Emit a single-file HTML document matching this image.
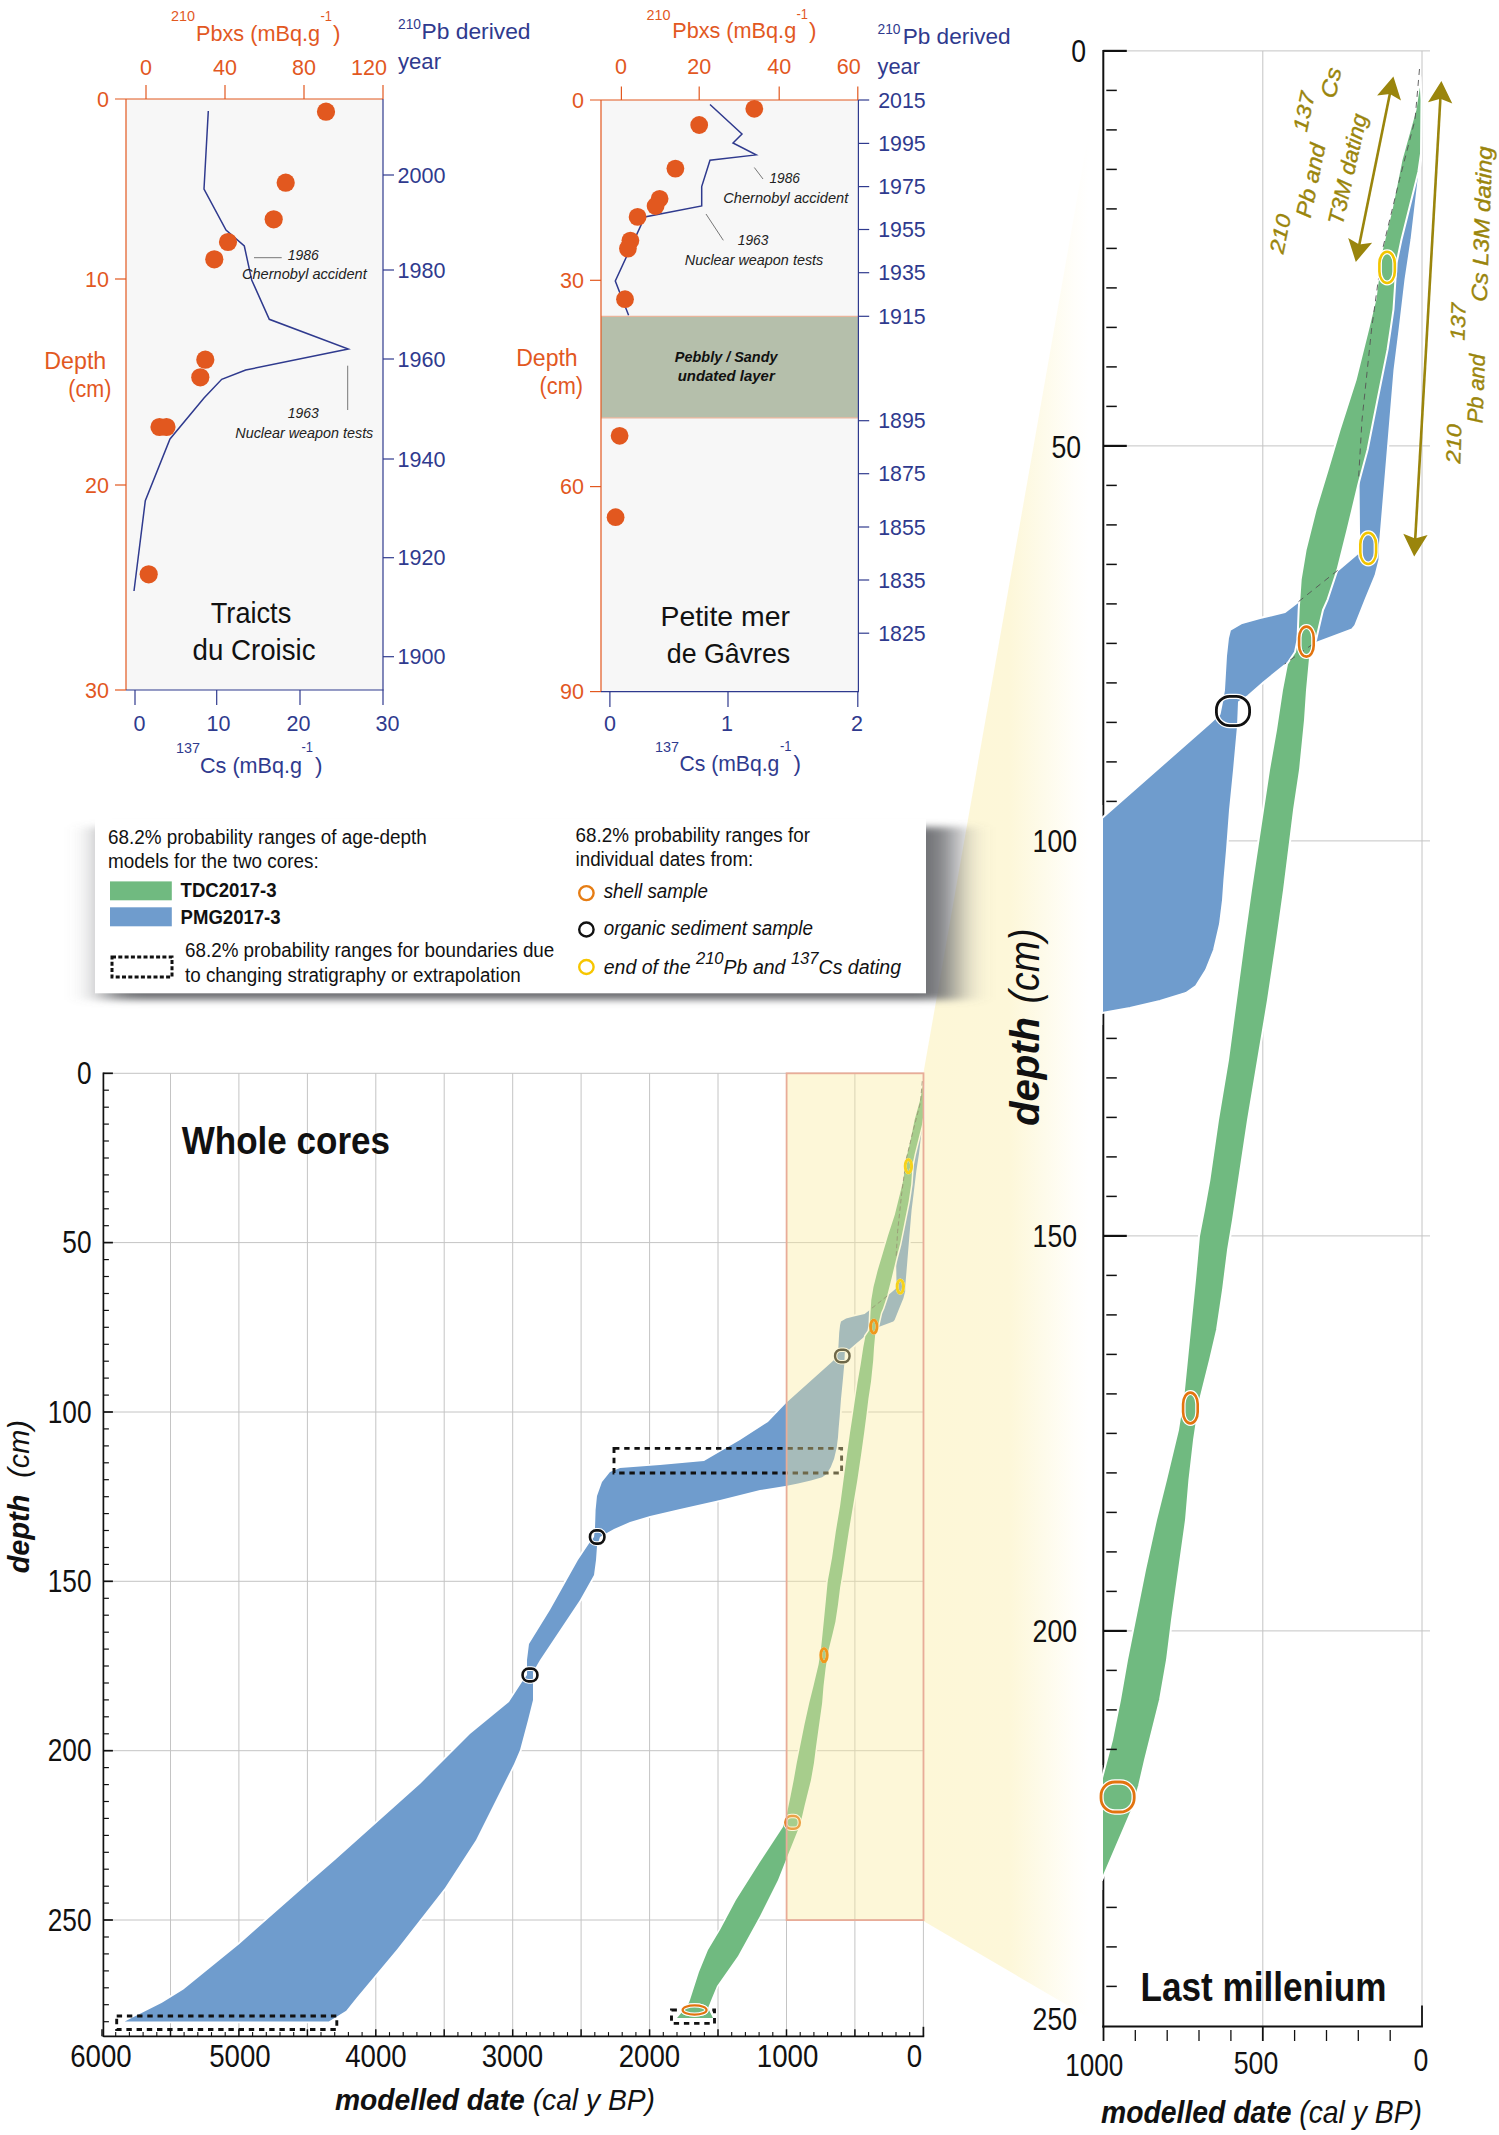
<!DOCTYPE html>
<html><head><meta charset="utf-8"><title>Age-depth models</title>
<style>html,body{margin:0;padding:0;background:#fff;}svg{display:block;}text{font-family:"Liberation Sans",sans-serif;}</style>
</head><body>
<svg width="1499" height="2135" viewBox="0 0 1499 2135" font-family="Liberation Sans, sans-serif">
<defs>
<linearGradient id="wedge" gradientUnits="userSpaceOnUse" x1="923" y1="0" x2="1103" y2="0">
<stop offset="0" stop-color="#FDF7D7"/>
<stop offset="0.48" stop-color="#FDF7D9"/>
<stop offset="0.68" stop-color="#FEFBEB"/>
<stop offset="0.84" stop-color="#FFFEFA"/>
<stop offset="0.92" stop-color="#FFFFFF"/>
<stop offset="1" stop-color="#FFFFFF"/>
</linearGradient>
<linearGradient id="shR" x1="0" y1="0" x2="1" y2="0">
<stop offset="0" stop-color="#6f7174" stop-opacity="0.92"/>
<stop offset="0.25" stop-color="#77797c" stop-opacity="0.8"/>
<stop offset="0.55" stop-color="#8a8c8f" stop-opacity="0.5"/>
<stop offset="0.8" stop-color="#9a9c9f" stop-opacity="0.22"/>
<stop offset="1" stop-color="#aaa" stop-opacity="0"/>
</linearGradient>
<linearGradient id="shB" x1="0" y1="0" x2="0" y2="1">
<stop offset="0" stop-color="#707275" stop-opacity="0.85"/>
<stop offset="0.5" stop-color="#909295" stop-opacity="0.4"/>
<stop offset="1" stop-color="#aaa" stop-opacity="0"/>
</linearGradient>
<linearGradient id="shL" x1="1" y1="0" x2="0" y2="0">
<stop offset="0" stop-color="#999" stop-opacity="0.35"/>
<stop offset="1" stop-color="#aaa" stop-opacity="0"/>
</linearGradient>
<linearGradient id="shT" x1="0" y1="1" x2="0" y2="0">
<stop offset="0" stop-color="#999" stop-opacity="0.3"/>
<stop offset="1" stop-color="#aaa" stop-opacity="0"/>
</linearGradient>
<filter id="blur" x="-10%" y="-40%" width="120%" height="180%"><feGaussianBlur stdDeviation="17 3.8"/></filter>
<marker id="ah" viewBox="0 0 20 22" refX="17" refY="11" markerWidth="20" markerHeight="22" markerUnits="userSpaceOnUse" orient="auto-start-reverse">
<path d="M20,11 L0,0 L6,11 L0,22 Z" fill="#9A850C"/>
</marker>
</defs>
<rect x="0" y="0" width="1499" height="2135" fill="#fff"/>
<polygon points="923.4,1073.3 1103,51 1103,2026 923.4,1921" fill="url(#wedge)"/>
<rect x="105.0" y="827.0" width="850.0" height="172.8" fill="#6e7073" filter="url(#blur)"/>
<rect x="95.0" y="819.0" width="831.0" height="174.3" fill="#fff"/>
<text x="108.0" y="844.4" font-size="20.00" fill="#111" text-anchor="start" textLength="318.8" lengthAdjust="spacingAndGlyphs" >68.2% probability ranges of age-depth</text>
<text x="108.0" y="868.4" font-size="20.00" fill="#111" text-anchor="start" textLength="210.7" lengthAdjust="spacingAndGlyphs" >models for the two cores:</text>
<rect x="110" y="881.4" width="61.8" height="18.9" fill="#70BA80"/>
<rect x="110" y="907.3" width="61.8" height="19" fill="#6F9CCD"/>
<text x="180.6" y="896.9" font-size="20.00" fill="#111" text-anchor="start" font-weight="bold" textLength="96.0" lengthAdjust="spacingAndGlyphs" >TDC2017-3</text>
<text x="180.6" y="923.7" font-size="20.00" fill="#111" text-anchor="start" font-weight="bold" textLength="100.0" lengthAdjust="spacingAndGlyphs" >PMG2017-3</text>
<rect x="112" y="957" width="60" height="20" fill="none" stroke="#111" stroke-width="3" stroke-dasharray="4 2.3"/>
<text x="185.0" y="956.9" font-size="20.00" fill="#111" text-anchor="start" textLength="369.3" lengthAdjust="spacingAndGlyphs" >68.2% probability ranges for boundaries due</text>
<text x="185.0" y="981.6" font-size="20.00" fill="#111" text-anchor="start" textLength="335.7" lengthAdjust="spacingAndGlyphs" >to changing stratigraphy or extrapolation</text>
<text x="575.5" y="841.6" font-size="20.00" fill="#111" text-anchor="start" textLength="234.5" lengthAdjust="spacingAndGlyphs" >68.2% probability ranges for</text>
<text x="575.5" y="866.0" font-size="20.00" fill="#111" text-anchor="start" textLength="177.8" lengthAdjust="spacingAndGlyphs" >individual dates from:</text>
<ellipse cx="586.4" cy="893.1" rx="7.2" ry="7.0" fill="none" stroke="#E67D14" stroke-width="2.4"/>
<ellipse cx="586.4" cy="929.5" rx="7.2" ry="7.0" fill="none" stroke="#111" stroke-width="2.4"/>
<ellipse cx="586.4" cy="967.0" rx="7.2" ry="7.0" fill="none" stroke="#F7C600" stroke-width="2.4"/>
<text x="603.7" y="898.2" font-size="20.00" fill="#111" text-anchor="start" font-style="italic" textLength="104.3" lengthAdjust="spacingAndGlyphs" >shell sample</text>
<text x="603.7" y="934.9" font-size="20.00" fill="#111" text-anchor="start" font-style="italic" textLength="209.3" lengthAdjust="spacingAndGlyphs" >organic sediment sample</text>
<text x="603.7" y="973.6" font-size="20" font-style="italic" fill="#111" textLength="297.3" lengthAdjust="spacingAndGlyphs">end of the <tspan font-size="17" dy="-10">210</tspan><tspan dy="10">Pb and </tspan><tspan font-size="17" dy="-10">137</tspan><tspan dy="10">Cs dating</tspan></text>
<rect x="126" y="99" width="257" height="591" fill="#F7F7F7"/>
<line x1="115.0" y1="99.0" x2="383.0" y2="99.0" stroke="#E2581F" stroke-width="1.20" />
<line x1="126.0" y1="99.0" x2="126.0" y2="690.0" stroke="#E2581F" stroke-width="1.20" />
<line x1="146.0" y1="85.0" x2="146.0" y2="99.0" stroke="#E2581F" stroke-width="1.20" />
<line x1="225.0" y1="85.0" x2="225.0" y2="99.0" stroke="#E2581F" stroke-width="1.20" />
<line x1="304.0" y1="85.0" x2="304.0" y2="99.0" stroke="#E2581F" stroke-width="1.20" />
<line x1="383.0" y1="85.0" x2="383.0" y2="99.0" stroke="#E2581F" stroke-width="1.20" />
<line x1="115.0" y1="279.0" x2="126.0" y2="279.0" stroke="#E2581F" stroke-width="1.20" />
<line x1="115.0" y1="485.0" x2="126.0" y2="485.0" stroke="#E2581F" stroke-width="1.20" />
<line x1="115.0" y1="690.0" x2="126.0" y2="690.0" stroke="#E2581F" stroke-width="1.20" />
<text x="146.0" y="74.5" font-size="21.50" fill="#E2581F" text-anchor="middle" >0</text>
<text x="225.0" y="74.5" font-size="21.50" fill="#E2581F" text-anchor="middle" >40</text>
<text x="304.0" y="74.5" font-size="21.50" fill="#E2581F" text-anchor="middle" >80</text>
<text x="369.0" y="74.5" font-size="21.50" fill="#E2581F" text-anchor="middle" >120</text>
<text x="109.0" y="106.5" font-size="21.50" fill="#E2581F" text-anchor="end" >0</text>
<text x="109.0" y="286.5" font-size="21.50" fill="#E2581F" text-anchor="end" >10</text>
<text x="109.0" y="492.5" font-size="21.50" fill="#E2581F" text-anchor="end" >20</text>
<text x="109.0" y="697.5" font-size="21.50" fill="#E2581F" text-anchor="end" >30</text>
<line x1="383.0" y1="99.0" x2="383.0" y2="690.0" stroke="#2F3A8E" stroke-width="1.20" />
<line x1="126.0" y1="690.0" x2="383.6" y2="690.0" stroke="#2F3A8E" stroke-width="1.20" />
<line x1="135.0" y1="690.0" x2="135.0" y2="705.0" stroke="#2F3A8E" stroke-width="1.20" />
<line x1="216.7" y1="690.0" x2="216.7" y2="705.0" stroke="#2F3A8E" stroke-width="1.20" />
<line x1="300.0" y1="690.0" x2="300.0" y2="705.0" stroke="#2F3A8E" stroke-width="1.20" />
<line x1="383.0" y1="690.0" x2="383.0" y2="705.0" stroke="#2F3A8E" stroke-width="1.20" />
<line x1="383.0" y1="175.0" x2="394.0" y2="175.0" stroke="#2F3A8E" stroke-width="1.20" />
<line x1="383.0" y1="270.0" x2="394.0" y2="270.0" stroke="#2F3A8E" stroke-width="1.20" />
<line x1="383.0" y1="359.0" x2="394.0" y2="359.0" stroke="#2F3A8E" stroke-width="1.20" />
<line x1="383.0" y1="459.0" x2="394.0" y2="459.0" stroke="#2F3A8E" stroke-width="1.20" />
<line x1="383.0" y1="557.7" x2="394.0" y2="557.7" stroke="#2F3A8E" stroke-width="1.20" />
<line x1="383.0" y1="656.7" x2="394.0" y2="656.7" stroke="#2F3A8E" stroke-width="1.20" />
<text x="397.5" y="182.5" font-size="21.50" fill="#2F3A8E" text-anchor="start" textLength="48.0" lengthAdjust="spacingAndGlyphs" >2000</text>
<text x="397.5" y="277.5" font-size="21.50" fill="#2F3A8E" text-anchor="start" textLength="48.0" lengthAdjust="spacingAndGlyphs" >1980</text>
<text x="397.5" y="366.5" font-size="21.50" fill="#2F3A8E" text-anchor="start" textLength="48.0" lengthAdjust="spacingAndGlyphs" >1960</text>
<text x="397.5" y="466.5" font-size="21.50" fill="#2F3A8E" text-anchor="start" textLength="48.0" lengthAdjust="spacingAndGlyphs" >1940</text>
<text x="397.5" y="565.2" font-size="21.50" fill="#2F3A8E" text-anchor="start" textLength="48.0" lengthAdjust="spacingAndGlyphs" >1920</text>
<text x="397.5" y="664.2" font-size="21.50" fill="#2F3A8E" text-anchor="start" textLength="48.0" lengthAdjust="spacingAndGlyphs" >1900</text>
<text x="139.5" y="730.5" font-size="21.50" fill="#2F3A8E" text-anchor="middle" >0</text>
<text x="218.5" y="730.5" font-size="21.50" fill="#2F3A8E" text-anchor="middle" >10</text>
<text x="298.5" y="730.5" font-size="21.50" fill="#2F3A8E" text-anchor="middle" >20</text>
<text x="387.5" y="730.5" font-size="21.50" fill="#2F3A8E" text-anchor="middle" >30</text>
<text x="171.0" y="21.0" font-size="15.00" fill="#E2581F" text-anchor="start" textLength="24.0" lengthAdjust="spacingAndGlyphs" >210</text>
<text x="196.0" y="41.0" font-size="22.50" fill="#E2581F" text-anchor="start" textLength="124.0" lengthAdjust="spacingAndGlyphs" >Pbxs (mBq.g</text>
<text x="320.5" y="20.5" font-size="15.00" fill="#E2581F" text-anchor="start" textLength="11.5" lengthAdjust="spacingAndGlyphs" >-1</text>
<text x="333.0" y="41.0" font-size="22.50" fill="#E2581F" text-anchor="start" >)</text>
<text x="398.0" y="29.0" font-size="15.00" fill="#2F3A8E" text-anchor="start" textLength="23.0" lengthAdjust="spacingAndGlyphs" >210</text>
<text x="421.5" y="38.5" font-size="22.50" fill="#2F3A8E" text-anchor="start" textLength="109.0" lengthAdjust="spacingAndGlyphs" >Pb derived</text>
<text x="398.0" y="69.0" font-size="22.50" fill="#2F3A8E" text-anchor="start" textLength="43.0" lengthAdjust="spacingAndGlyphs" >year</text>
<text x="176.0" y="752.5" font-size="15.00" fill="#2F3A8E" text-anchor="start" textLength="24.0" lengthAdjust="spacingAndGlyphs" >137</text>
<text x="200.0" y="772.5" font-size="22.50" fill="#2F3A8E" text-anchor="start" textLength="102.0" lengthAdjust="spacingAndGlyphs" >Cs (mBq.g</text>
<text x="301.5" y="752.0" font-size="15.00" fill="#2F3A8E" text-anchor="start" textLength="11.5" lengthAdjust="spacingAndGlyphs" >-1</text>
<text x="315.0" y="772.5" font-size="22.50" fill="#2F3A8E" text-anchor="start" >)</text>
<text x="44.3" y="369.0" font-size="23.00" fill="#E2581F" text-anchor="start" textLength="62.0" lengthAdjust="spacingAndGlyphs" >Depth</text>
<text x="68.3" y="396.5" font-size="23.00" fill="#E2581F" text-anchor="start" textLength="43.0" lengthAdjust="spacingAndGlyphs" >(cm)</text>
<polyline fill="none" stroke="#2F3A8E" stroke-width="1.5" stroke-linejoin="miter" points="208.3,111.0 204.0,189.0 226.0,230.0 244.3,246.0 251.7,280.0 269.3,319.3 348.3,349.0 245.7,370.0 221.7,379.3 204.0,398.0 170.0,439.0 145.3,500.7 134.0,591.0"/>
<circle cx="326.0" cy="111.7" r="9.1" fill="#E2581F"/>
<circle cx="285.7" cy="182.7" r="9.1" fill="#E2581F"/>
<circle cx="273.7" cy="219.3" r="9.1" fill="#E2581F"/>
<circle cx="228.0" cy="242.0" r="9.1" fill="#E2581F"/>
<circle cx="214.3" cy="259.3" r="9.1" fill="#E2581F"/>
<circle cx="205.3" cy="359.7" r="9.1" fill="#E2581F"/>
<circle cx="200.3" cy="377.3" r="9.1" fill="#E2581F"/>
<circle cx="159.5" cy="427.0" r="9.1" fill="#E2581F"/>
<circle cx="166.5" cy="427.0" r="9.1" fill="#E2581F"/>
<circle cx="148.7" cy="574.3" r="9.1" fill="#E2581F"/>
<line x1="254.0" y1="257.7" x2="281.7" y2="257.7" stroke="#555" stroke-width="0.80" />
<text x="287.7" y="260.0" font-size="14.50" fill="#222" text-anchor="start" font-style="italic" textLength="31.0" lengthAdjust="spacingAndGlyphs" >1986</text>
<text x="242.0" y="279.0" font-size="14.50" fill="#222" text-anchor="start" font-style="italic" textLength="124.7" lengthAdjust="spacingAndGlyphs" >Chernobyl accident</text>
<line x1="347.7" y1="365.7" x2="347.7" y2="410.0" stroke="#555" stroke-width="0.80" />
<text x="287.7" y="417.5" font-size="14.50" fill="#222" text-anchor="start" font-style="italic" textLength="31.0" lengthAdjust="spacingAndGlyphs" >1963</text>
<text x="235.3" y="437.5" font-size="14.50" fill="#222" text-anchor="start" font-style="italic" textLength="138.0" lengthAdjust="spacingAndGlyphs" >Nuclear weapon tests</text>
<text x="251.0" y="623.0" font-size="29.00" fill="#111" text-anchor="middle" textLength="80.5" lengthAdjust="spacingAndGlyphs" >Traicts</text>
<text x="254.0" y="659.5" font-size="29.00" fill="#111" text-anchor="middle" textLength="123.0" lengthAdjust="spacingAndGlyphs" >du Croisic</text>
<rect x="601" y="100" width="257.4" height="591.6" fill="#F7F7F7"/>
<rect x="601" y="316.3" width="257.4" height="101.5" fill="#B5BFAB"/>
<line x1="601.0" y1="316.3" x2="858.4" y2="316.3" stroke="#E9B59B" stroke-width="1.20" />
<line x1="601.0" y1="417.8" x2="858.4" y2="417.8" stroke="#E9B59B" stroke-width="1.20" />
<line x1="590.0" y1="100.0" x2="858.4" y2="100.0" stroke="#E2581F" stroke-width="1.20" />
<line x1="601.0" y1="100.0" x2="601.0" y2="691.6" stroke="#E2581F" stroke-width="1.20" />
<line x1="621.4" y1="86.5" x2="621.4" y2="100.0" stroke="#E2581F" stroke-width="1.20" />
<line x1="699.2" y1="86.5" x2="699.2" y2="100.0" stroke="#E2581F" stroke-width="1.20" />
<line x1="779.2" y1="86.5" x2="779.2" y2="100.0" stroke="#E2581F" stroke-width="1.20" />
<line x1="857.8" y1="86.5" x2="857.8" y2="100.0" stroke="#E2581F" stroke-width="1.20" />
<line x1="590.0" y1="280.3" x2="601.0" y2="280.3" stroke="#E2581F" stroke-width="1.20" />
<line x1="590.0" y1="486.6" x2="601.0" y2="486.6" stroke="#E2581F" stroke-width="1.20" />
<line x1="590.0" y1="691.6" x2="601.0" y2="691.6" stroke="#E2581F" stroke-width="1.20" />
<text x="621.0" y="73.5" font-size="21.50" fill="#E2581F" text-anchor="middle" >0</text>
<text x="699.2" y="73.5" font-size="21.50" fill="#E2581F" text-anchor="middle" >20</text>
<text x="779.2" y="73.5" font-size="21.50" fill="#E2581F" text-anchor="middle" >40</text>
<text x="848.7" y="73.5" font-size="21.50" fill="#E2581F" text-anchor="middle" >60</text>
<text x="584.0" y="107.5" font-size="21.50" fill="#E2581F" text-anchor="end" >0</text>
<text x="584.0" y="287.8" font-size="21.50" fill="#E2581F" text-anchor="end" >30</text>
<text x="584.0" y="494.1" font-size="21.50" fill="#E2581F" text-anchor="end" >60</text>
<text x="584.0" y="699.1" font-size="21.50" fill="#E2581F" text-anchor="end" >90</text>
<line x1="858.4" y1="100.0" x2="858.4" y2="691.6" stroke="#2F3A8E" stroke-width="1.20" />
<line x1="601.0" y1="691.6" x2="859.0" y2="691.6" stroke="#2F3A8E" stroke-width="1.20" />
<line x1="609.9" y1="691.6" x2="609.9" y2="707.0" stroke="#2F3A8E" stroke-width="1.20" />
<line x1="728.0" y1="691.6" x2="728.0" y2="707.0" stroke="#2F3A8E" stroke-width="1.20" />
<line x1="857.8" y1="691.6" x2="857.8" y2="707.0" stroke="#2F3A8E" stroke-width="1.20" />
<line x1="858.4" y1="100.0" x2="869.2" y2="100.0" stroke="#2F3A8E" stroke-width="1.20" />
<text x="878.2" y="107.5" font-size="21.50" fill="#2F3A8E" text-anchor="start" textLength="47.5" lengthAdjust="spacingAndGlyphs" >2015</text>
<line x1="858.4" y1="143.4" x2="869.2" y2="143.4" stroke="#2F3A8E" stroke-width="1.20" />
<text x="878.2" y="150.9" font-size="21.50" fill="#2F3A8E" text-anchor="start" textLength="47.5" lengthAdjust="spacingAndGlyphs" >1995</text>
<line x1="858.4" y1="186.6" x2="869.2" y2="186.6" stroke="#2F3A8E" stroke-width="1.20" />
<text x="878.2" y="194.1" font-size="21.50" fill="#2F3A8E" text-anchor="start" textLength="47.5" lengthAdjust="spacingAndGlyphs" >1975</text>
<line x1="858.4" y1="229.5" x2="869.2" y2="229.5" stroke="#2F3A8E" stroke-width="1.20" />
<text x="878.2" y="237.0" font-size="21.50" fill="#2F3A8E" text-anchor="start" textLength="47.5" lengthAdjust="spacingAndGlyphs" >1955</text>
<line x1="858.4" y1="272.7" x2="869.2" y2="272.7" stroke="#2F3A8E" stroke-width="1.20" />
<text x="878.2" y="280.2" font-size="21.50" fill="#2F3A8E" text-anchor="start" textLength="47.5" lengthAdjust="spacingAndGlyphs" >1935</text>
<line x1="858.4" y1="316.3" x2="869.2" y2="316.3" stroke="#2F3A8E" stroke-width="1.20" />
<text x="878.2" y="323.8" font-size="21.50" fill="#2F3A8E" text-anchor="start" textLength="47.5" lengthAdjust="spacingAndGlyphs" >1915</text>
<line x1="858.4" y1="420.7" x2="869.2" y2="420.7" stroke="#2F3A8E" stroke-width="1.20" />
<text x="878.2" y="428.2" font-size="21.50" fill="#2F3A8E" text-anchor="start" textLength="47.5" lengthAdjust="spacingAndGlyphs" >1895</text>
<line x1="858.4" y1="473.7" x2="869.2" y2="473.7" stroke="#2F3A8E" stroke-width="1.20" />
<text x="878.2" y="481.2" font-size="21.50" fill="#2F3A8E" text-anchor="start" textLength="47.5" lengthAdjust="spacingAndGlyphs" >1875</text>
<line x1="858.4" y1="527.0" x2="869.2" y2="527.0" stroke="#2F3A8E" stroke-width="1.20" />
<text x="878.2" y="534.5" font-size="21.50" fill="#2F3A8E" text-anchor="start" textLength="47.5" lengthAdjust="spacingAndGlyphs" >1855</text>
<line x1="858.4" y1="580.0" x2="869.2" y2="580.0" stroke="#2F3A8E" stroke-width="1.20" />
<text x="878.2" y="587.5" font-size="21.50" fill="#2F3A8E" text-anchor="start" textLength="47.5" lengthAdjust="spacingAndGlyphs" >1835</text>
<line x1="858.4" y1="633.2" x2="869.2" y2="633.2" stroke="#2F3A8E" stroke-width="1.20" />
<text x="878.2" y="640.7" font-size="21.50" fill="#2F3A8E" text-anchor="start" textLength="47.5" lengthAdjust="spacingAndGlyphs" >1825</text>
<text x="610.0" y="730.5" font-size="21.50" fill="#2F3A8E" text-anchor="middle" >0</text>
<text x="727.0" y="730.5" font-size="21.50" fill="#2F3A8E" text-anchor="middle" >1</text>
<text x="857.0" y="730.5" font-size="21.50" fill="#2F3A8E" text-anchor="middle" >2</text>
<text x="646.6" y="19.5" font-size="15.00" fill="#E2581F" text-anchor="start" textLength="24.0" lengthAdjust="spacingAndGlyphs" >210</text>
<text x="672.2" y="37.5" font-size="22.50" fill="#E2581F" text-anchor="start" textLength="124.0" lengthAdjust="spacingAndGlyphs" >Pbxs (mBq.g</text>
<text x="796.5" y="19.0" font-size="15.00" fill="#E2581F" text-anchor="start" textLength="11.5" lengthAdjust="spacingAndGlyphs" >-1</text>
<text x="809.0" y="37.5" font-size="22.50" fill="#E2581F" text-anchor="start" >)</text>
<text x="877.5" y="33.5" font-size="15.00" fill="#2F3A8E" text-anchor="start" textLength="23.0" lengthAdjust="spacingAndGlyphs" >210</text>
<text x="902.7" y="43.5" font-size="22.50" fill="#2F3A8E" text-anchor="start" textLength="108.0" lengthAdjust="spacingAndGlyphs" >Pb derived</text>
<text x="877.5" y="73.5" font-size="22.50" fill="#2F3A8E" text-anchor="start" textLength="42.5" lengthAdjust="spacingAndGlyphs" >year</text>
<text x="655.0" y="751.5" font-size="15.00" fill="#2F3A8E" text-anchor="start" textLength="24.0" lengthAdjust="spacingAndGlyphs" >137</text>
<text x="679.4" y="771.0" font-size="22.50" fill="#2F3A8E" text-anchor="start" textLength="100.0" lengthAdjust="spacingAndGlyphs" >Cs (mBq.g</text>
<text x="780.0" y="751.0" font-size="15.00" fill="#2F3A8E" text-anchor="start" textLength="11.5" lengthAdjust="spacingAndGlyphs" >-1</text>
<text x="793.6" y="771.0" font-size="22.50" fill="#2F3A8E" text-anchor="start" >)</text>
<text x="516.2" y="365.5" font-size="23.00" fill="#E2581F" text-anchor="start" textLength="61.5" lengthAdjust="spacingAndGlyphs" >Depth</text>
<text x="539.6" y="393.5" font-size="23.00" fill="#E2581F" text-anchor="start" textLength="43.5" lengthAdjust="spacingAndGlyphs" >(cm)</text>
<polyline fill="none" stroke="#2F3A8E" stroke-width="1.5" points="710.0,104.5 742.0,134.0 733.0,143.0 756.1,154.9 710.0,160.3 701.7,186.6 701.7,206.0 644.8,216.9 615.3,281.0 628.6,315.2"/>
<circle cx="754.3" cy="108.8" r="8.9" fill="#E2581F"/>
<circle cx="699.2" cy="125.0" r="8.9" fill="#E2581F"/>
<circle cx="675.4" cy="168.6" r="8.9" fill="#E2581F"/>
<circle cx="659.6" cy="198.8" r="8.9" fill="#E2581F"/>
<circle cx="655.6" cy="206.0" r="8.9" fill="#E2581F"/>
<circle cx="637.6" cy="216.9" r="8.9" fill="#E2581F"/>
<circle cx="630.4" cy="240.6" r="8.9" fill="#E2581F"/>
<circle cx="627.9" cy="248.6" r="8.9" fill="#E2581F"/>
<circle cx="625.0" cy="299.2" r="8.9" fill="#E2581F"/>
<circle cx="619.6" cy="435.8" r="8.9" fill="#E2581F"/>
<circle cx="615.6" cy="517.2" r="8.9" fill="#E2581F"/>
<line x1="754.3" y1="167.5" x2="763.0" y2="179.0" stroke="#555" stroke-width="0.80" />
<text x="769.5" y="182.5" font-size="14.50" fill="#222" text-anchor="start" font-style="italic" textLength="30.5" lengthAdjust="spacingAndGlyphs" >1986</text>
<text x="723.3" y="202.5" font-size="14.50" fill="#222" text-anchor="start" font-style="italic" textLength="125.0" lengthAdjust="spacingAndGlyphs" >Chernobyl accident</text>
<line x1="706.0" y1="214.0" x2="723.3" y2="240.3" stroke="#555" stroke-width="0.80" />
<text x="737.8" y="244.5" font-size="14.50" fill="#222" text-anchor="start" font-style="italic" textLength="30.5" lengthAdjust="spacingAndGlyphs" >1963</text>
<text x="684.8" y="264.5" font-size="14.50" fill="#222" text-anchor="start" font-style="italic" textLength="138.5" lengthAdjust="spacingAndGlyphs" >Nuclear weapon tests</text>
<text x="726.2" y="362.2" font-size="15.20" fill="#111" text-anchor="middle" font-weight="bold" font-style="italic" textLength="102.7" lengthAdjust="spacingAndGlyphs" >Pebbly / Sandy</text>
<text x="726.2" y="381.4" font-size="15.20" fill="#111" text-anchor="middle" font-weight="bold" font-style="italic" textLength="97.0" lengthAdjust="spacingAndGlyphs" >undated layer</text>
<text x="725.2" y="626.0" font-size="28.50" fill="#111" text-anchor="middle" textLength="129.5" lengthAdjust="spacingAndGlyphs" >Petite mer</text>
<text x="728.5" y="663.0" font-size="28.50" fill="#111" text-anchor="middle" textLength="123.5" lengthAdjust="spacingAndGlyphs" >de G&#226;vres</text>
<line x1="854.9" y1="1073.3" x2="854.9" y2="2036.3" stroke="#C4C4C4" stroke-width="1.00" />
<line x1="786.5" y1="1073.3" x2="786.5" y2="2036.3" stroke="#C4C4C4" stroke-width="1.00" />
<line x1="718.0" y1="1073.3" x2="718.0" y2="2036.3" stroke="#C4C4C4" stroke-width="1.00" />
<line x1="649.6" y1="1073.3" x2="649.6" y2="2036.3" stroke="#C4C4C4" stroke-width="1.00" />
<line x1="581.1" y1="1073.3" x2="581.1" y2="2036.3" stroke="#C4C4C4" stroke-width="1.00" />
<line x1="512.7" y1="1073.3" x2="512.7" y2="2036.3" stroke="#C4C4C4" stroke-width="1.00" />
<line x1="444.2" y1="1073.3" x2="444.2" y2="2036.3" stroke="#C4C4C4" stroke-width="1.00" />
<line x1="375.8" y1="1073.3" x2="375.8" y2="2036.3" stroke="#C4C4C4" stroke-width="1.00" />
<line x1="307.4" y1="1073.3" x2="307.4" y2="2036.3" stroke="#C4C4C4" stroke-width="1.00" />
<line x1="238.9" y1="1073.3" x2="238.9" y2="2036.3" stroke="#C4C4C4" stroke-width="1.00" />
<line x1="170.5" y1="1073.3" x2="170.5" y2="2036.3" stroke="#C4C4C4" stroke-width="1.00" />
<line x1="923.4" y1="1073.3" x2="923.4" y2="2036.3" stroke="#C4C4C4" stroke-width="1.00" />
<line x1="103.4" y1="1073.3" x2="923.4" y2="1073.3" stroke="#C4C4C4" stroke-width="1.00" />
<line x1="103.4" y1="1242.6" x2="923.4" y2="1242.6" stroke="#C4C4C4" stroke-width="1.00" />
<line x1="103.4" y1="1412.0" x2="923.4" y2="1412.0" stroke="#C4C4C4" stroke-width="1.00" />
<line x1="103.4" y1="1581.3" x2="923.4" y2="1581.3" stroke="#C4C4C4" stroke-width="1.00" />
<line x1="103.4" y1="1750.7" x2="923.4" y2="1750.7" stroke="#C4C4C4" stroke-width="1.00" />
<line x1="103.4" y1="1920.0" x2="923.4" y2="1920.0" stroke="#C4C4C4" stroke-width="1.00" />
<polygon points="922.3,1081.1 923.2,1094.4 923.0,1120.1 922.1,1126.8 918.9,1154.2 916.3,1171.3 913.7,1193.0 911.6,1210.1 909.4,1235.7 907.3,1261.4 905.2,1287.0 905.2,1291.3 903.4,1298.2 899.2,1308.4 894.6,1319.9 893.3,1321.4 877.9,1327.2 864.6,1336.6 855.6,1343.9 848.7,1349.9 844.8,1352.4 844.4,1362.7 842.7,1381.6 841.0,1398.8 839.7,1415.9 838.6,1428.8 838.0,1437.3 836.7,1447.6 834.1,1458.8 830.7,1467.3 826.4,1474.2 822.1,1477.2 810.9,1480.6 798.0,1483.6 786.9,1485.8 760.0,1490.0 720.0,1500.0 680.0,1509.0 650.0,1516.0 630.0,1522.0 614.0,1529.0 605.0,1534.0 600.0,1537.0 597.0,1546.0 596.0,1560.0 594.0,1575.0 580.0,1600.0 540.0,1660.0 533.0,1672.0 533.0,1684.0 533.0,1700.0 528.0,1720.0 520.0,1750.0 514.0,1764.0 496.0,1800.0 476.0,1840.0 444.9,1888.0 396.9,1949.4 356.8,1997.4 346.2,2010.8 328.8,2021.5 124.7,2021.5 162.0,2002.8 183.4,1989.4 239.4,1944.0 308.8,1882.7 335.0,1860.0 420.0,1784.0 470.0,1734.0 509.0,1702.0 522.0,1682.0 527.0,1675.0 527.0,1660.0 529.0,1644.0 550.0,1610.0 578.0,1560.0 590.0,1542.0 594.0,1537.0 595.0,1528.0 595.6,1510.0 597.0,1496.0 602.0,1482.0 610.0,1472.0 620.0,1468.0 660.0,1465.0 704.0,1461.0 740.0,1440.0 768.0,1422.0 786.9,1402.2 832.4,1361.5 836.5,1357.6 837.5,1352.4 838.4,1347.3 839.2,1332.7 840.1,1325.0 841.0,1321.6 846.1,1318.6 853.8,1316.4 864.6,1313.9 870.0,1309.7 887.2,1296.0 895.7,1288.7 896.6,1287.0 896.4,1278.5 896.1,1257.0 897.6,1231.5 901.8,1192.5 906.4,1158.4 913.7,1128.5 920.4,1102.8 922.3,1081.1" fill="#6F9CCD" stroke="#fff" stroke-width="3.6" paint-order="stroke" stroke-linejoin="round"/>
<polygon points="922.7,1084.5 923.2,1094.4 923.0,1117.4 921.9,1125.1 914.6,1154.2 912.5,1164.4 911.2,1184.1 909.9,1193.0 908.6,1201.5 904.3,1222.9 900.0,1244.3 896.2,1258.8 891.5,1278.5 887.2,1295.6 882.9,1308.4 880.9,1313.0 877.9,1325.9 875.3,1333.6 874.0,1347.3 873.2,1360.2 871.0,1381.6 868.4,1398.8 866.3,1415.9 864.1,1433.1 861.1,1454.5 857.3,1480.2 853.0,1505.9 848.7,1531.7 844.8,1557.4 842.3,1574.5 840.1,1587.4 838.0,1604.5 835.4,1621.7 832.4,1634.6 828.1,1651.7 825.5,1668.9 823.5,1686.0 822.1,1703.2 819.1,1724.6 816.1,1746.0 813.9,1763.2 810.9,1780.3 806.6,1797.5 804.5,1806.0 801.9,1817.2 798.9,1827.5 786.9,1857.5 778.0,1880.0 760.0,1916.0 738.0,1956.0 717.0,1986.0 712.0,1998.0 708.0,2008.0 713.0,2018.0 677.0,2018.0 688.0,2005.0 690.0,2000.0 699.0,1972.0 708.0,1950.0 720.0,1930.0 736.0,1900.0 760.0,1862.0 783.0,1827.0 786.9,1813.8 790.3,1797.5 793.7,1780.3 796.7,1763.2 800.2,1746.0 804.5,1724.6 809.2,1703.2 813.5,1686.0 818.6,1664.6 821.0,1649.1 822.5,1634.6 824.2,1617.4 825.9,1600.3 827.7,1581.4 829.8,1570.2 832.1,1557.4 835.8,1531.7 840.1,1505.9 843.5,1480.2 847.0,1454.5 850.0,1433.1 852.6,1415.9 855.1,1398.8 857.7,1381.6 860.7,1364.5 863.3,1347.3 865.4,1336.2 868.9,1331.0 869.9,1325.9 870.5,1312.7 871.3,1299.9 873.5,1287.0 877.8,1269.9 882.9,1253.0 888.0,1235.8 894.9,1214.4 900.2,1193.0 903.4,1179.7 906.0,1159.3 910.3,1141.5 914.6,1120.1 920.6,1098.6 922.7,1084.5" fill="#70BA80" stroke="#fff" stroke-width="3.0" paint-order="stroke" stroke-linejoin="round"/>
<polyline points="922.3,1081.1 920.4,1102.8 913.7,1128.5 906.4,1158.4 901.8,1192.5 897.6,1231.5 896.1,1257.0" fill="none" stroke="#555" stroke-width="0.8" stroke-dasharray="4.5 3"/>
<polyline points="887.2,1296.0 870.0,1309.7" fill="none" stroke="#555" stroke-width="0.8" stroke-dasharray="4.5 3"/>
<rect x="835.1" y="1349.8" width="14.4" height="12.4" rx="5.7" ry="5.7" fill="none" stroke="#fff" stroke-width="4.4"/>
<rect x="835.1" y="1349.8" width="14.4" height="12.4" rx="5.7" ry="5.7" fill="none" stroke="#111" stroke-width="2.4"/>
<rect x="590.0" y="1530.4" width="14.4" height="13.2" rx="6.1" ry="6.1" fill="none" stroke="#fff" stroke-width="4.6"/>
<rect x="590.0" y="1530.4" width="14.4" height="13.2" rx="6.1" ry="6.1" fill="none" stroke="#111" stroke-width="2.6"/>
<rect x="522.6" y="1668.6" width="14.8" height="12.8" rx="5.9" ry="5.9" fill="none" stroke="#fff" stroke-width="4.6"/>
<rect x="522.6" y="1668.6" width="14.8" height="12.8" rx="5.9" ry="5.9" fill="none" stroke="#111" stroke-width="2.6"/>
<rect x="785.4" y="1816.0" width="14.4" height="12.8" rx="5.9" ry="5.9" fill="none" stroke="#fff" stroke-width="4.4"/>
<rect x="785.4" y="1816.0" width="14.4" height="12.8" rx="5.9" ry="5.9" fill="none" stroke="#E2740F" stroke-width="2.4"/>
<ellipse cx="694.6" cy="2010.0" rx="12.0" ry="4.6" fill="none" stroke="#fff" stroke-width="4.2"/>
<ellipse cx="694.6" cy="2010.0" rx="12.0" ry="4.6" fill="none" stroke="#E2740F" stroke-width="2.2"/>
<rect x="614" y="1448.4" width="227.6" height="24.6" fill="none" stroke="#111" stroke-width="2.9" stroke-dasharray="5.4 4.8"/>
<rect x="116.7" y="2016" width="220.1" height="13.5" fill="none" stroke="#111" stroke-width="2.9" stroke-dasharray="5.4 4.8"/>
<rect x="671.5" y="2010" width="43" height="13.4" fill="none" stroke="#111" stroke-width="2.9" stroke-dasharray="5.4 4.8"/>
<rect x="786.6" y="1073.3" width="136.9" height="846.8" fill="#FAEC9E" fill-opacity="0.40" stroke="#E8AC98" stroke-width="1.8"/>
<ellipse cx="908.4" cy="1166.1" rx="3.2" ry="6.6" fill="none" stroke="#fff" stroke-width="3.0"/>
<ellipse cx="908.4" cy="1166.1" rx="3.2" ry="6.6" fill="none" stroke="#F5D21C" stroke-width="3.0"/>
<ellipse cx="900.3" cy="1286.6" rx="3.2" ry="6.6" fill="none" stroke="#fff" stroke-width="3.0"/>
<ellipse cx="900.3" cy="1286.6" rx="3.2" ry="6.6" fill="none" stroke="#F5D21C" stroke-width="3.0"/>
<ellipse cx="873.8" cy="1326.6" rx="3.2" ry="6.6" fill="none" stroke="#fff" stroke-width="3.0"/>
<ellipse cx="873.8" cy="1326.6" rx="3.2" ry="6.6" fill="none" stroke="#EE981C" stroke-width="3.0"/>
<ellipse cx="824.0" cy="1655.1" rx="3.2" ry="6.6" fill="none" stroke="#fff" stroke-width="3.0"/>
<ellipse cx="824.0" cy="1655.1" rx="3.2" ry="6.6" fill="none" stroke="#EE981C" stroke-width="3.0"/>
<ellipse cx="694.6" cy="2010" rx="12" ry="4.6" fill="#70BA80"/>
<ellipse cx="694.6" cy="2010.0" rx="12.0" ry="4.6" fill="none" stroke="#fff" stroke-width="4.2"/>
<ellipse cx="694.6" cy="2010.0" rx="12.0" ry="4.6" fill="none" stroke="#E2740F" stroke-width="2.2"/>
<line x1="103.4" y1="1072.5" x2="103.4" y2="2037.1" stroke="#111" stroke-width="1.70" />
<line x1="103.4" y1="2036.3" x2="924.2" y2="2036.3" stroke="#111" stroke-width="1.70" />
<line x1="103.4" y1="1073.3" x2="112.9" y2="1073.3" stroke="#111" stroke-width="1.70" />
<line x1="103.4" y1="1090.2" x2="108.9" y2="1090.2" stroke="#111" stroke-width="1.20" />
<line x1="103.4" y1="1107.2" x2="108.9" y2="1107.2" stroke="#111" stroke-width="1.20" />
<line x1="103.4" y1="1124.1" x2="108.9" y2="1124.1" stroke="#111" stroke-width="1.20" />
<line x1="103.4" y1="1141.0" x2="108.9" y2="1141.0" stroke="#111" stroke-width="1.20" />
<line x1="103.4" y1="1158.0" x2="108.9" y2="1158.0" stroke="#111" stroke-width="1.20" />
<line x1="103.4" y1="1174.9" x2="108.9" y2="1174.9" stroke="#111" stroke-width="1.20" />
<line x1="103.4" y1="1191.8" x2="108.9" y2="1191.8" stroke="#111" stroke-width="1.20" />
<line x1="103.4" y1="1208.8" x2="108.9" y2="1208.8" stroke="#111" stroke-width="1.20" />
<line x1="103.4" y1="1225.7" x2="108.9" y2="1225.7" stroke="#111" stroke-width="1.20" />
<line x1="103.4" y1="1242.6" x2="112.9" y2="1242.6" stroke="#111" stroke-width="1.70" />
<line x1="103.4" y1="1259.6" x2="108.9" y2="1259.6" stroke="#111" stroke-width="1.20" />
<line x1="103.4" y1="1276.5" x2="108.9" y2="1276.5" stroke="#111" stroke-width="1.20" />
<line x1="103.4" y1="1293.5" x2="108.9" y2="1293.5" stroke="#111" stroke-width="1.20" />
<line x1="103.4" y1="1310.4" x2="108.9" y2="1310.4" stroke="#111" stroke-width="1.20" />
<line x1="103.4" y1="1327.3" x2="108.9" y2="1327.3" stroke="#111" stroke-width="1.20" />
<line x1="103.4" y1="1344.3" x2="108.9" y2="1344.3" stroke="#111" stroke-width="1.20" />
<line x1="103.4" y1="1361.2" x2="108.9" y2="1361.2" stroke="#111" stroke-width="1.20" />
<line x1="103.4" y1="1378.1" x2="108.9" y2="1378.1" stroke="#111" stroke-width="1.20" />
<line x1="103.4" y1="1395.1" x2="108.9" y2="1395.1" stroke="#111" stroke-width="1.20" />
<line x1="103.4" y1="1412.0" x2="112.9" y2="1412.0" stroke="#111" stroke-width="1.70" />
<line x1="103.4" y1="1428.9" x2="108.9" y2="1428.9" stroke="#111" stroke-width="1.20" />
<line x1="103.4" y1="1445.9" x2="108.9" y2="1445.9" stroke="#111" stroke-width="1.20" />
<line x1="103.4" y1="1462.8" x2="108.9" y2="1462.8" stroke="#111" stroke-width="1.20" />
<line x1="103.4" y1="1479.7" x2="108.9" y2="1479.7" stroke="#111" stroke-width="1.20" />
<line x1="103.4" y1="1496.7" x2="108.9" y2="1496.7" stroke="#111" stroke-width="1.20" />
<line x1="103.4" y1="1513.6" x2="108.9" y2="1513.6" stroke="#111" stroke-width="1.20" />
<line x1="103.4" y1="1530.5" x2="108.9" y2="1530.5" stroke="#111" stroke-width="1.20" />
<line x1="103.4" y1="1547.5" x2="108.9" y2="1547.5" stroke="#111" stroke-width="1.20" />
<line x1="103.4" y1="1564.4" x2="108.9" y2="1564.4" stroke="#111" stroke-width="1.20" />
<line x1="103.4" y1="1581.3" x2="112.9" y2="1581.3" stroke="#111" stroke-width="1.70" />
<line x1="103.4" y1="1598.3" x2="108.9" y2="1598.3" stroke="#111" stroke-width="1.20" />
<line x1="103.4" y1="1615.2" x2="108.9" y2="1615.2" stroke="#111" stroke-width="1.20" />
<line x1="103.4" y1="1632.2" x2="108.9" y2="1632.2" stroke="#111" stroke-width="1.20" />
<line x1="103.4" y1="1649.1" x2="108.9" y2="1649.1" stroke="#111" stroke-width="1.20" />
<line x1="103.4" y1="1666.0" x2="108.9" y2="1666.0" stroke="#111" stroke-width="1.20" />
<line x1="103.4" y1="1683.0" x2="108.9" y2="1683.0" stroke="#111" stroke-width="1.20" />
<line x1="103.4" y1="1699.9" x2="108.9" y2="1699.9" stroke="#111" stroke-width="1.20" />
<line x1="103.4" y1="1716.8" x2="108.9" y2="1716.8" stroke="#111" stroke-width="1.20" />
<line x1="103.4" y1="1733.8" x2="108.9" y2="1733.8" stroke="#111" stroke-width="1.20" />
<line x1="103.4" y1="1750.7" x2="112.9" y2="1750.7" stroke="#111" stroke-width="1.70" />
<line x1="103.4" y1="1767.6" x2="108.9" y2="1767.6" stroke="#111" stroke-width="1.20" />
<line x1="103.4" y1="1784.6" x2="108.9" y2="1784.6" stroke="#111" stroke-width="1.20" />
<line x1="103.4" y1="1801.5" x2="108.9" y2="1801.5" stroke="#111" stroke-width="1.20" />
<line x1="103.4" y1="1818.4" x2="108.9" y2="1818.4" stroke="#111" stroke-width="1.20" />
<line x1="103.4" y1="1835.4" x2="108.9" y2="1835.4" stroke="#111" stroke-width="1.20" />
<line x1="103.4" y1="1852.3" x2="108.9" y2="1852.3" stroke="#111" stroke-width="1.20" />
<line x1="103.4" y1="1869.2" x2="108.9" y2="1869.2" stroke="#111" stroke-width="1.20" />
<line x1="103.4" y1="1886.2" x2="108.9" y2="1886.2" stroke="#111" stroke-width="1.20" />
<line x1="103.4" y1="1903.1" x2="108.9" y2="1903.1" stroke="#111" stroke-width="1.20" />
<line x1="103.4" y1="1920.0" x2="112.9" y2="1920.0" stroke="#111" stroke-width="1.70" />
<line x1="103.4" y1="1937.0" x2="108.9" y2="1937.0" stroke="#111" stroke-width="1.20" />
<line x1="103.4" y1="1953.9" x2="108.9" y2="1953.9" stroke="#111" stroke-width="1.20" />
<line x1="103.4" y1="1970.9" x2="108.9" y2="1970.9" stroke="#111" stroke-width="1.20" />
<line x1="103.4" y1="1987.8" x2="108.9" y2="1987.8" stroke="#111" stroke-width="1.20" />
<line x1="103.4" y1="2004.7" x2="108.9" y2="2004.7" stroke="#111" stroke-width="1.20" />
<line x1="103.4" y1="2021.7" x2="108.9" y2="2021.7" stroke="#111" stroke-width="1.20" />
<line x1="923.4" y1="2036.3" x2="923.4" y2="2026.8" stroke="#111" stroke-width="1.70" />
<line x1="909.7" y1="2036.3" x2="909.7" y2="2032.1" stroke="#111" stroke-width="1.10" />
<line x1="896.0" y1="2036.3" x2="896.0" y2="2032.1" stroke="#111" stroke-width="1.10" />
<line x1="882.3" y1="2036.3" x2="882.3" y2="2032.1" stroke="#111" stroke-width="1.10" />
<line x1="868.6" y1="2036.3" x2="868.6" y2="2032.1" stroke="#111" stroke-width="1.10" />
<line x1="854.9" y1="2036.3" x2="854.9" y2="2029.3" stroke="#111" stroke-width="1.50" />
<line x1="841.3" y1="2036.3" x2="841.3" y2="2032.1" stroke="#111" stroke-width="1.10" />
<line x1="827.6" y1="2036.3" x2="827.6" y2="2032.1" stroke="#111" stroke-width="1.10" />
<line x1="813.9" y1="2036.3" x2="813.9" y2="2032.1" stroke="#111" stroke-width="1.10" />
<line x1="800.2" y1="2036.3" x2="800.2" y2="2032.1" stroke="#111" stroke-width="1.10" />
<line x1="786.5" y1="2036.3" x2="786.5" y2="2029.3" stroke="#111" stroke-width="1.50" />
<line x1="772.8" y1="2036.3" x2="772.8" y2="2032.1" stroke="#111" stroke-width="1.10" />
<line x1="759.1" y1="2036.3" x2="759.1" y2="2032.1" stroke="#111" stroke-width="1.10" />
<line x1="745.4" y1="2036.3" x2="745.4" y2="2032.1" stroke="#111" stroke-width="1.10" />
<line x1="731.7" y1="2036.3" x2="731.7" y2="2032.1" stroke="#111" stroke-width="1.10" />
<line x1="718.0" y1="2036.3" x2="718.0" y2="2029.3" stroke="#111" stroke-width="1.50" />
<line x1="704.4" y1="2036.3" x2="704.4" y2="2032.1" stroke="#111" stroke-width="1.10" />
<line x1="690.7" y1="2036.3" x2="690.7" y2="2032.1" stroke="#111" stroke-width="1.10" />
<line x1="677.0" y1="2036.3" x2="677.0" y2="2032.1" stroke="#111" stroke-width="1.10" />
<line x1="663.3" y1="2036.3" x2="663.3" y2="2032.1" stroke="#111" stroke-width="1.10" />
<line x1="649.6" y1="2036.3" x2="649.6" y2="2029.3" stroke="#111" stroke-width="1.50" />
<line x1="635.9" y1="2036.3" x2="635.9" y2="2032.1" stroke="#111" stroke-width="1.10" />
<line x1="622.2" y1="2036.3" x2="622.2" y2="2032.1" stroke="#111" stroke-width="1.10" />
<line x1="608.5" y1="2036.3" x2="608.5" y2="2032.1" stroke="#111" stroke-width="1.10" />
<line x1="594.8" y1="2036.3" x2="594.8" y2="2032.1" stroke="#111" stroke-width="1.10" />
<line x1="581.1" y1="2036.3" x2="581.1" y2="2029.3" stroke="#111" stroke-width="1.50" />
<line x1="567.5" y1="2036.3" x2="567.5" y2="2032.1" stroke="#111" stroke-width="1.10" />
<line x1="553.8" y1="2036.3" x2="553.8" y2="2032.1" stroke="#111" stroke-width="1.10" />
<line x1="540.1" y1="2036.3" x2="540.1" y2="2032.1" stroke="#111" stroke-width="1.10" />
<line x1="526.4" y1="2036.3" x2="526.4" y2="2032.1" stroke="#111" stroke-width="1.10" />
<line x1="512.7" y1="2036.3" x2="512.7" y2="2029.3" stroke="#111" stroke-width="1.50" />
<line x1="499.0" y1="2036.3" x2="499.0" y2="2032.1" stroke="#111" stroke-width="1.10" />
<line x1="485.3" y1="2036.3" x2="485.3" y2="2032.1" stroke="#111" stroke-width="1.10" />
<line x1="471.6" y1="2036.3" x2="471.6" y2="2032.1" stroke="#111" stroke-width="1.10" />
<line x1="457.9" y1="2036.3" x2="457.9" y2="2032.1" stroke="#111" stroke-width="1.10" />
<line x1="444.2" y1="2036.3" x2="444.2" y2="2029.3" stroke="#111" stroke-width="1.50" />
<line x1="430.6" y1="2036.3" x2="430.6" y2="2032.1" stroke="#111" stroke-width="1.10" />
<line x1="416.9" y1="2036.3" x2="416.9" y2="2032.1" stroke="#111" stroke-width="1.10" />
<line x1="403.2" y1="2036.3" x2="403.2" y2="2032.1" stroke="#111" stroke-width="1.10" />
<line x1="389.5" y1="2036.3" x2="389.5" y2="2032.1" stroke="#111" stroke-width="1.10" />
<line x1="375.8" y1="2036.3" x2="375.8" y2="2029.3" stroke="#111" stroke-width="1.50" />
<line x1="362.1" y1="2036.3" x2="362.1" y2="2032.1" stroke="#111" stroke-width="1.10" />
<line x1="348.4" y1="2036.3" x2="348.4" y2="2032.1" stroke="#111" stroke-width="1.10" />
<line x1="334.7" y1="2036.3" x2="334.7" y2="2032.1" stroke="#111" stroke-width="1.10" />
<line x1="321.0" y1="2036.3" x2="321.0" y2="2032.1" stroke="#111" stroke-width="1.10" />
<line x1="307.4" y1="2036.3" x2="307.4" y2="2029.3" stroke="#111" stroke-width="1.50" />
<line x1="293.7" y1="2036.3" x2="293.7" y2="2032.1" stroke="#111" stroke-width="1.10" />
<line x1="280.0" y1="2036.3" x2="280.0" y2="2032.1" stroke="#111" stroke-width="1.10" />
<line x1="266.3" y1="2036.3" x2="266.3" y2="2032.1" stroke="#111" stroke-width="1.10" />
<line x1="252.6" y1="2036.3" x2="252.6" y2="2032.1" stroke="#111" stroke-width="1.10" />
<line x1="238.9" y1="2036.3" x2="238.9" y2="2029.3" stroke="#111" stroke-width="1.50" />
<line x1="225.2" y1="2036.3" x2="225.2" y2="2032.1" stroke="#111" stroke-width="1.10" />
<line x1="211.5" y1="2036.3" x2="211.5" y2="2032.1" stroke="#111" stroke-width="1.10" />
<line x1="197.8" y1="2036.3" x2="197.8" y2="2032.1" stroke="#111" stroke-width="1.10" />
<line x1="184.1" y1="2036.3" x2="184.1" y2="2032.1" stroke="#111" stroke-width="1.10" />
<line x1="170.5" y1="2036.3" x2="170.5" y2="2029.3" stroke="#111" stroke-width="1.50" />
<line x1="156.8" y1="2036.3" x2="156.8" y2="2032.1" stroke="#111" stroke-width="1.10" />
<line x1="143.1" y1="2036.3" x2="143.1" y2="2032.1" stroke="#111" stroke-width="1.10" />
<line x1="129.4" y1="2036.3" x2="129.4" y2="2032.1" stroke="#111" stroke-width="1.10" />
<line x1="115.7" y1="2036.3" x2="115.7" y2="2032.1" stroke="#111" stroke-width="1.10" />
<line x1="102.0" y1="2036.3" x2="102.0" y2="2029.3" stroke="#111" stroke-width="1.50" />
<text x="91.5" y="1083.9" font-size="30.50" fill="#111" text-anchor="end" textLength="14.6" lengthAdjust="spacingAndGlyphs" >0</text>
<text x="91.5" y="1253.2" font-size="30.50" fill="#111" text-anchor="end" textLength="29.2" lengthAdjust="spacingAndGlyphs" >50</text>
<text x="91.5" y="1422.6" font-size="30.50" fill="#111" text-anchor="end" textLength="43.8" lengthAdjust="spacingAndGlyphs" >100</text>
<text x="91.5" y="1591.9" font-size="30.50" fill="#111" text-anchor="end" textLength="43.8" lengthAdjust="spacingAndGlyphs" >150</text>
<text x="91.5" y="1761.3" font-size="30.50" fill="#111" text-anchor="end" textLength="43.8" lengthAdjust="spacingAndGlyphs" >200</text>
<text x="91.5" y="1930.6" font-size="30.50" fill="#111" text-anchor="end" textLength="43.8" lengthAdjust="spacingAndGlyphs" >250</text>
<text x="101.0" y="2067.0" font-size="30.50" fill="#111" text-anchor="middle" textLength="61.5" lengthAdjust="spacingAndGlyphs" >6000</text>
<text x="239.9" y="2067.0" font-size="30.50" fill="#111" text-anchor="middle" textLength="61.5" lengthAdjust="spacingAndGlyphs" >5000</text>
<text x="376.0" y="2067.0" font-size="30.50" fill="#111" text-anchor="middle" textLength="61.5" lengthAdjust="spacingAndGlyphs" >4000</text>
<text x="512.5" y="2067.0" font-size="30.50" fill="#111" text-anchor="middle" textLength="61.5" lengthAdjust="spacingAndGlyphs" >3000</text>
<text x="649.5" y="2067.0" font-size="30.50" fill="#111" text-anchor="middle" textLength="61.5" lengthAdjust="spacingAndGlyphs" >2000</text>
<text x="787.6" y="2067.0" font-size="30.50" fill="#111" text-anchor="middle" textLength="61.5" lengthAdjust="spacingAndGlyphs" >1000</text>
<text x="914.5" y="2067.0" font-size="30.50" fill="#111" text-anchor="middle" textLength="15.4" lengthAdjust="spacingAndGlyphs" >0</text>
<text x="181.7" y="1153.5" font-size="38.00" fill="#111" text-anchor="start" font-weight="bold" textLength="208.3" lengthAdjust="spacingAndGlyphs" >Whole cores</text>
<text x="335" y="2110" font-size="30" fill="#111" font-style="italic" textLength="320" lengthAdjust="spacingAndGlyphs"><tspan font-weight="bold">modelled date</tspan> (cal y BP)</text>
<text transform="translate(29,1573.3) rotate(-90)" font-size="29" fill="#111" font-style="italic" font-weight="bold" textLength="78.7" lengthAdjust="spacingAndGlyphs">depth</text>
<text transform="translate(29,1477.8) rotate(-90)" font-size="30" fill="#111" font-style="italic" textLength="57.7" lengthAdjust="spacingAndGlyphs">(cm)</text>
<line x1="1262.8" y1="50.9" x2="1262.8" y2="2026.5" stroke="#C4C4C4" stroke-width="1.00" />
<line x1="1422.0" y1="50.9" x2="1422.0" y2="2026.5" stroke="#C4C4C4" stroke-width="1.00" />
<line x1="1103.3" y1="50.9" x2="1430.0" y2="50.9" stroke="#C4C4C4" stroke-width="1.00" />
<line x1="1103.3" y1="445.9" x2="1430.0" y2="445.9" stroke="#C4C4C4" stroke-width="1.00" />
<line x1="1103.3" y1="840.9" x2="1430.0" y2="840.9" stroke="#C4C4C4" stroke-width="1.00" />
<line x1="1103.3" y1="1235.9" x2="1430.0" y2="1235.9" stroke="#C4C4C4" stroke-width="1.00" />
<line x1="1103.3" y1="1630.9" x2="1430.0" y2="1630.9" stroke="#C4C4C4" stroke-width="1.00" />
<line x1="1103.3" y1="49.9" x2="1103.3" y2="2027.5" stroke="#111" stroke-width="2.00" />
<polygon points="1419.5,69.0 1421.5,100.0 1421.0,160.0 1419.0,175.6 1411.5,239.5 1405.5,279.4 1399.5,330.0 1394.5,369.9 1389.5,429.7 1384.5,489.6 1379.5,549.4 1379.5,559.4 1375.5,575.4 1365.6,599.3 1355.0,626.0 1352.0,629.5 1316.0,643.0 1285.0,665.0 1264.0,682.0 1248.0,696.0 1239.0,702.0 1238.0,726.0 1234.0,770.0 1230.0,810.0 1227.0,850.0 1224.4,880.0 1223.0,900.0 1220.0,924.0 1214.0,950.0 1206.0,970.0 1196.0,986.0 1186.0,993.0 1160.0,1001.0 1130.0,1008.0 1102.0,1013.0 1102.0,818.0 1210.0,723.0 1219.6,714.0 1222.0,702.0 1224.0,690.0 1226.0,656.0 1228.0,638.0 1230.0,630.0 1242.0,623.0 1260.0,618.0 1285.0,612.0 1297.7,602.3 1337.6,570.4 1357.6,553.4 1359.6,549.4 1359.0,529.5 1358.5,479.4 1362.0,420.0 1371.6,329.0 1382.5,249.5 1399.5,179.6 1415.0,119.8 1419.5,69.0" fill="#6F9CCD" stroke="#fff" stroke-width="2" stroke-linejoin="round"/>
<polygon points="1420.4,77.0 1421.5,100.0 1421.0,153.7 1418.4,171.7 1401.5,239.5 1396.5,263.4 1393.5,309.3 1390.5,330.0 1387.5,350.0 1377.5,399.8 1367.6,449.7 1358.6,483.6 1347.6,529.5 1337.6,569.4 1327.7,599.3 1323.0,610.0 1316.0,640.0 1310.0,658.0 1307.0,690.0 1305.0,720.0 1300.0,770.0 1294.0,810.0 1289.0,850.0 1284.0,890.0 1277.0,940.0 1268.0,1000.0 1258.0,1060.0 1248.0,1120.0 1239.0,1180.0 1233.0,1220.0 1228.0,1250.0 1223.0,1290.0 1217.0,1330.0 1210.0,1360.0 1200.0,1400.0 1194.0,1440.0 1189.4,1480.0 1186.0,1520.0 1179.0,1570.0 1172.0,1620.0 1167.0,1660.0 1160.0,1700.0 1150.0,1740.0 1145.0,1760.0 1139.0,1786.0 1132.0,1810.0 1102.0,1880.0 1102.0,1778.0 1112.0,1740.0 1120.0,1700.0 1127.0,1660.0 1135.0,1620.0 1145.0,1570.0 1156.0,1520.0 1166.0,1480.0 1178.0,1430.0 1183.6,1394.0 1187.0,1360.0 1191.0,1320.0 1195.0,1280.0 1199.0,1236.0 1204.0,1210.0 1209.4,1180.0 1218.0,1120.0 1228.0,1060.0 1236.0,1000.0 1244.0,940.0 1251.0,890.0 1257.0,850.0 1263.0,810.0 1269.0,770.0 1276.0,730.0 1282.0,690.0 1287.0,664.0 1295.0,652.0 1297.5,640.0 1298.7,609.3 1300.7,579.4 1305.7,549.4 1315.7,509.5 1327.7,470.0 1339.6,430.0 1355.6,380.0 1368.0,330.0 1375.5,299.0 1381.5,251.5 1391.5,210.0 1401.5,160.0 1415.4,110.0 1420.4,77.0" fill="#70BA80" stroke="#fff" stroke-width="2" stroke-linejoin="round"/>
<rect x="1096" y="805" width="6.3" height="220" fill="#fff"/>
<rect x="1096" y="1765" width="6.3" height="125" fill="#fff"/>
<polyline points="1419.5,69.0 1415.0,119.8 1399.5,179.6 1382.5,249.5 1371.6,329.0 1362.0,420.0 1358.5,479.4" fill="none" stroke="#555" stroke-width="0.9" stroke-dasharray="6 5"/>
<polyline points="1337.6,570.4 1297.7,602.3" fill="none" stroke="#555" stroke-width="0.9" stroke-dasharray="6 5"/>
<polyline points="1313.0,644.0 1284.6,664.0" fill="none" stroke="#555" stroke-width="0.9" stroke-dasharray="6 5"/>
<rect x="1379.4" y="251.8" width="15.4" height="31.2" rx="7.7" ry="11.5" fill="none" stroke="#fff" stroke-width="5.0"/>
<rect x="1379.4" y="251.8" width="15.4" height="31.2" rx="7.7" ry="11.5" fill="none" stroke="#F2C500" stroke-width="2.6"/>
<rect x="1360.3" y="532.8" width="15.8" height="31.2" rx="7.9" ry="11.5" fill="none" stroke="#fff" stroke-width="5.0"/>
<rect x="1360.3" y="532.8" width="15.8" height="31.2" rx="7.9" ry="11.5" fill="none" stroke="#F2C500" stroke-width="2.6"/>
<rect x="1299.1" y="626.6" width="14.6" height="30.0" rx="7.3" ry="11.1" fill="none" stroke="#fff" stroke-width="5.0"/>
<rect x="1299.1" y="626.6" width="14.6" height="30.0" rx="7.3" ry="11.1" fill="none" stroke="#E2740F" stroke-width="2.6"/>
<rect x="1183.1" y="1392.6" width="14.6" height="30.8" rx="7.3" ry="11.4" fill="none" stroke="#fff" stroke-width="5.0"/>
<rect x="1183.1" y="1392.6" width="14.6" height="30.8" rx="7.3" ry="11.4" fill="none" stroke="#E2740F" stroke-width="2.6"/>
<rect x="1216.4" y="696.4" width="33.2" height="29.2" rx="13.4" ry="13.4" fill="none" stroke="#fff" stroke-width="5.4"/>
<rect x="1216.4" y="696.4" width="33.2" height="29.2" rx="13.4" ry="13.4" fill="none" stroke="#111" stroke-width="2.8"/>
<rect x="1101.0" y="1782.0" width="33.2" height="30.0" rx="13.8" ry="13.8" fill="none" stroke="#fff" stroke-width="5.4"/>
<rect x="1101.0" y="1782.0" width="33.2" height="30.0" rx="13.8" ry="13.8" fill="none" stroke="#E2740F" stroke-width="2.8"/>
<line x1="1103.3" y1="50.9" x2="1126.8" y2="50.9" stroke="#111" stroke-width="2.20" />
<line x1="1106.3" y1="90.4" x2="1116.8" y2="90.4" stroke="#111" stroke-width="1.50" />
<line x1="1106.3" y1="129.9" x2="1116.8" y2="129.9" stroke="#111" stroke-width="1.50" />
<line x1="1106.3" y1="169.4" x2="1116.8" y2="169.4" stroke="#111" stroke-width="1.50" />
<line x1="1106.3" y1="208.9" x2="1116.8" y2="208.9" stroke="#111" stroke-width="1.50" />
<line x1="1106.3" y1="248.4" x2="1116.8" y2="248.4" stroke="#111" stroke-width="1.50" />
<line x1="1106.3" y1="287.9" x2="1116.8" y2="287.9" stroke="#111" stroke-width="1.50" />
<line x1="1106.3" y1="327.4" x2="1116.8" y2="327.4" stroke="#111" stroke-width="1.50" />
<line x1="1106.3" y1="366.9" x2="1116.8" y2="366.9" stroke="#111" stroke-width="1.50" />
<line x1="1106.3" y1="406.4" x2="1116.8" y2="406.4" stroke="#111" stroke-width="1.50" />
<line x1="1103.3" y1="445.9" x2="1126.8" y2="445.9" stroke="#111" stroke-width="2.20" />
<line x1="1106.3" y1="485.4" x2="1116.8" y2="485.4" stroke="#111" stroke-width="1.50" />
<line x1="1106.3" y1="524.9" x2="1116.8" y2="524.9" stroke="#111" stroke-width="1.50" />
<line x1="1106.3" y1="564.4" x2="1116.8" y2="564.4" stroke="#111" stroke-width="1.50" />
<line x1="1106.3" y1="603.9" x2="1116.8" y2="603.9" stroke="#111" stroke-width="1.50" />
<line x1="1106.3" y1="643.4" x2="1116.8" y2="643.4" stroke="#111" stroke-width="1.50" />
<line x1="1106.3" y1="682.9" x2="1116.8" y2="682.9" stroke="#111" stroke-width="1.50" />
<line x1="1106.3" y1="722.4" x2="1116.8" y2="722.4" stroke="#111" stroke-width="1.50" />
<line x1="1106.3" y1="761.9" x2="1116.8" y2="761.9" stroke="#111" stroke-width="1.50" />
<line x1="1106.3" y1="801.4" x2="1116.8" y2="801.4" stroke="#111" stroke-width="1.50" />
<line x1="1106.3" y1="1038.4" x2="1116.8" y2="1038.4" stroke="#111" stroke-width="1.50" />
<line x1="1106.3" y1="1077.9" x2="1116.8" y2="1077.9" stroke="#111" stroke-width="1.50" />
<line x1="1106.3" y1="1117.4" x2="1116.8" y2="1117.4" stroke="#111" stroke-width="1.50" />
<line x1="1106.3" y1="1156.9" x2="1116.8" y2="1156.9" stroke="#111" stroke-width="1.50" />
<line x1="1106.3" y1="1196.4" x2="1116.8" y2="1196.4" stroke="#111" stroke-width="1.50" />
<line x1="1103.3" y1="1235.9" x2="1126.8" y2="1235.9" stroke="#111" stroke-width="2.20" />
<line x1="1106.3" y1="1275.4" x2="1116.8" y2="1275.4" stroke="#111" stroke-width="1.50" />
<line x1="1106.3" y1="1314.9" x2="1116.8" y2="1314.9" stroke="#111" stroke-width="1.50" />
<line x1="1106.3" y1="1354.4" x2="1116.8" y2="1354.4" stroke="#111" stroke-width="1.50" />
<line x1="1106.3" y1="1393.9" x2="1116.8" y2="1393.9" stroke="#111" stroke-width="1.50" />
<line x1="1106.3" y1="1433.4" x2="1116.8" y2="1433.4" stroke="#111" stroke-width="1.50" />
<line x1="1106.3" y1="1472.9" x2="1116.8" y2="1472.9" stroke="#111" stroke-width="1.50" />
<line x1="1106.3" y1="1512.4" x2="1116.8" y2="1512.4" stroke="#111" stroke-width="1.50" />
<line x1="1106.3" y1="1551.9" x2="1116.8" y2="1551.9" stroke="#111" stroke-width="1.50" />
<line x1="1106.3" y1="1591.4" x2="1116.8" y2="1591.4" stroke="#111" stroke-width="1.50" />
<line x1="1103.3" y1="1630.9" x2="1126.8" y2="1630.9" stroke="#111" stroke-width="2.20" />
<line x1="1106.3" y1="1670.4" x2="1116.8" y2="1670.4" stroke="#111" stroke-width="1.50" />
<line x1="1106.3" y1="1709.9" x2="1116.8" y2="1709.9" stroke="#111" stroke-width="1.50" />
<line x1="1106.3" y1="1749.4" x2="1116.8" y2="1749.4" stroke="#111" stroke-width="1.50" />
<line x1="1106.3" y1="1907.4" x2="1116.8" y2="1907.4" stroke="#111" stroke-width="1.50" />
<line x1="1106.3" y1="1946.9" x2="1116.8" y2="1946.9" stroke="#111" stroke-width="1.50" />
<line x1="1106.3" y1="1986.4" x2="1116.8" y2="1986.4" stroke="#111" stroke-width="1.50" />
<line x1="1102.3" y1="2026.5" x2="1422.9" y2="2026.5" stroke="#111" stroke-width="2.00" />
<line x1="1422.0" y1="2026.5" x2="1422.0" y2="2005.5" stroke="#111" stroke-width="1.80" />
<line x1="1390.2" y1="2030.0" x2="1390.2" y2="2041.0" stroke="#111" stroke-width="1.30" />
<line x1="1358.3" y1="2030.0" x2="1358.3" y2="2041.0" stroke="#111" stroke-width="1.30" />
<line x1="1326.5" y1="2030.0" x2="1326.5" y2="2041.0" stroke="#111" stroke-width="1.30" />
<line x1="1294.6" y1="2030.0" x2="1294.6" y2="2041.0" stroke="#111" stroke-width="1.30" />
<line x1="1262.8" y1="2026.5" x2="1262.8" y2="2041.0" stroke="#111" stroke-width="1.80" />
<line x1="1230.9" y1="2030.0" x2="1230.9" y2="2041.0" stroke="#111" stroke-width="1.30" />
<line x1="1199.0" y1="2030.0" x2="1199.0" y2="2041.0" stroke="#111" stroke-width="1.30" />
<line x1="1167.2" y1="2030.0" x2="1167.2" y2="2041.0" stroke="#111" stroke-width="1.30" />
<line x1="1135.3" y1="2030.0" x2="1135.3" y2="2041.0" stroke="#111" stroke-width="1.30" />
<line x1="1103.5" y1="2026.5" x2="1103.5" y2="2041.0" stroke="#111" stroke-width="1.80" />
<text x="1086.0" y="61.7" font-size="31.00" fill="#111" text-anchor="end" textLength="14.8" lengthAdjust="spacingAndGlyphs" >0</text>
<text x="1081.0" y="457.7" font-size="31.00" fill="#111" text-anchor="end" textLength="29.6" lengthAdjust="spacingAndGlyphs" >50</text>
<text x="1077.0" y="851.7" font-size="31.00" fill="#111" text-anchor="end" textLength="44.4" lengthAdjust="spacingAndGlyphs" >100</text>
<text x="1077.0" y="1246.7" font-size="31.00" fill="#111" text-anchor="end" textLength="44.4" lengthAdjust="spacingAndGlyphs" >150</text>
<text x="1077.0" y="1641.7" font-size="31.00" fill="#111" text-anchor="end" textLength="44.4" lengthAdjust="spacingAndGlyphs" >200</text>
<text x="1077.0" y="2030.2" font-size="31.00" fill="#111" text-anchor="end" textLength="44.4" lengthAdjust="spacingAndGlyphs" >250</text>
<text x="1094.2" y="2076.2" font-size="31.00" fill="#111" text-anchor="middle" textLength="58.0" lengthAdjust="spacingAndGlyphs" >1000</text>
<text x="1256.0" y="2073.5" font-size="31.00" fill="#111" text-anchor="middle" textLength="44.5" lengthAdjust="spacingAndGlyphs" >500</text>
<text x="1421.0" y="2070.5" font-size="31.00" fill="#111" text-anchor="middle" textLength="14.8" lengthAdjust="spacingAndGlyphs" >0</text>
<text x="1140.5" y="2001.0" font-size="40.50" fill="#111" text-anchor="start" font-weight="bold" textLength="246.0" lengthAdjust="spacingAndGlyphs" >Last millenium</text>
<text x="1101" y="2122.5" font-size="30.5" fill="#111" font-style="italic" textLength="321" lengthAdjust="spacingAndGlyphs"><tspan font-weight="bold">modelled date</tspan> (cal y BP)</text>
<text transform="translate(1038.6,1126) rotate(-90)" font-size="40" fill="#111" font-style="italic" font-weight="bold" textLength="109" lengthAdjust="spacingAndGlyphs">depth</text>
<text transform="translate(1038.6,1003.6) rotate(-90)" font-size="42" fill="#111" font-style="italic" textLength="75" lengthAdjust="spacingAndGlyphs">(cm)</text>
<line x1="1391.4" y1="86.3" x2="1357.8" y2="252.1" stroke="#9A850C" stroke-width="2.60" />
<polygon points="1393.4,76.5 1377.1,95.6 1389.9,93.9 1401.0,100.5" fill="#9A850C"/>
<polygon points="1355.8,261.9 1348.2,237.9 1359.3,244.5 1372.1,242.8" fill="#9A850C"/>
<line x1="1440.8" y1="90.9" x2="1414.8" y2="546.4" stroke="#9A850C" stroke-width="2.60" />
<polygon points="1441.4,80.9 1428.0,102.2 1440.4,98.7 1452.3,103.6" fill="#9A850C"/>
<polygon points="1414.2,556.4 1403.3,533.7 1415.2,538.6 1427.6,535.1" fill="#9A850C"/>
<g transform="translate(1310.5,218.7) rotate(-78.3)" fill="#9A850C" stroke="#9A850C" stroke-width="0.35" font-style="italic">
<text x="-40.5" y="-19.5" font-size="20.5" textLength="39.5" lengthAdjust="spacingAndGlyphs">210</text>
<text x="0.0" y="0.0" font-size="22.0" textLength="75.0" lengthAdjust="spacingAndGlyphs">Pb and</text>
<text x="83.5" y="-21.0" font-size="20.5" textLength="40.0" lengthAdjust="spacingAndGlyphs">137</text>
<text x="122.0" y="0.0" font-size="22.0" textLength="30.7" lengthAdjust="spacingAndGlyphs">Cs</text>
</g>
<g transform="translate(1342.4,226.0) rotate(-77.3)" fill="#9A850C" stroke="#9A850C" stroke-width="0.35" font-style="italic">
<text x="0.0" y="0.0" font-size="22.0" textLength="113.0" lengthAdjust="spacingAndGlyphs">T3M dating</text>
</g>
<g transform="translate(1482.6,423.4) rotate(-88.0)" fill="#9A850C" stroke="#9A850C" stroke-width="0.35" font-style="italic">
<text x="-41.0" y="-21.0" font-size="20.5" textLength="39.4" lengthAdjust="spacingAndGlyphs">210</text>
<text x="0.0" y="0.0" font-size="22.0" textLength="69.0" lengthAdjust="spacingAndGlyphs">Pb and</text>
<text x="81.9" y="-21.0" font-size="20.5" textLength="37.7" lengthAdjust="spacingAndGlyphs">137</text>
<text x="121.4" y="0.0" font-size="22.0" textLength="155.7" lengthAdjust="spacingAndGlyphs">Cs L3M dating</text>
</g>
</svg>
</body></html>
